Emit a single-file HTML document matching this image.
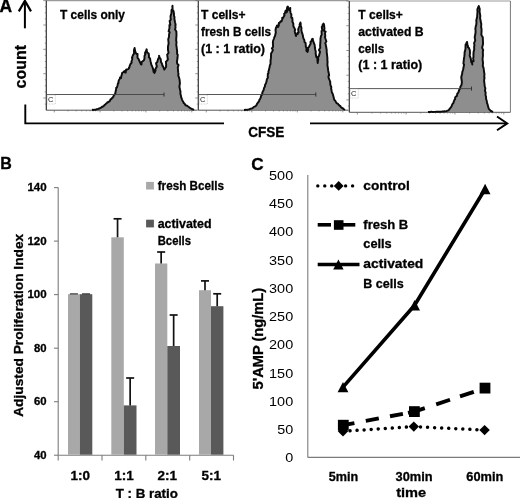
<!DOCTYPE html>
<html><head><meta charset="utf-8"><title>Figure</title>
<style>
html,body{margin:0;padding:0;background:#fff;}
body{width:520px;height:498px;overflow:hidden;}
svg{display:block;font-family:"Liberation Sans",sans-serif;filter:grayscale(1) blur(0.4px);}
</style></head><body>
<svg width="520" height="498" viewBox="0 0 520 498">
<rect width="520" height="498" fill="#fff"/>
<line x1="46.3" y1="0.6" x2="197.5" y2="0.6" stroke="#9a9a9a" stroke-width="1.2"/><line x1="46.3" y1="110.2" x2="197.5" y2="110.2" stroke="#555" stroke-width="1"/><line x1="46.3" y1="0.6" x2="46.3" y2="110.2" stroke="#333" stroke-width="1.2"/><line x1="43.3" y1="0.6" x2="46.3" y2="0.6" stroke="#666" stroke-width="0.7"/><line x1="44.8" y1="6.7" x2="46.3" y2="6.7" stroke="#666" stroke-width="0.7"/><line x1="44.8" y1="12.8" x2="46.3" y2="12.8" stroke="#666" stroke-width="0.7"/><line x1="44.8" y1="18.9" x2="46.3" y2="18.9" stroke="#666" stroke-width="0.7"/><line x1="43.3" y1="25.0" x2="46.3" y2="25.0" stroke="#666" stroke-width="0.7"/><line x1="44.8" y1="31.0" x2="46.3" y2="31.0" stroke="#666" stroke-width="0.7"/><line x1="44.8" y1="37.1" x2="46.3" y2="37.1" stroke="#666" stroke-width="0.7"/><line x1="44.8" y1="43.2" x2="46.3" y2="43.2" stroke="#666" stroke-width="0.7"/><line x1="43.3" y1="49.3" x2="46.3" y2="49.3" stroke="#666" stroke-width="0.7"/><line x1="44.8" y1="55.4" x2="46.3" y2="55.4" stroke="#666" stroke-width="0.7"/><line x1="44.8" y1="61.5" x2="46.3" y2="61.5" stroke="#666" stroke-width="0.7"/><line x1="44.8" y1="67.6" x2="46.3" y2="67.6" stroke="#666" stroke-width="0.7"/><line x1="43.3" y1="73.7" x2="46.3" y2="73.7" stroke="#666" stroke-width="0.7"/><line x1="44.8" y1="79.8" x2="46.3" y2="79.8" stroke="#666" stroke-width="0.7"/><line x1="44.8" y1="85.8" x2="46.3" y2="85.8" stroke="#666" stroke-width="0.7"/><line x1="44.8" y1="91.9" x2="46.3" y2="91.9" stroke="#666" stroke-width="0.7"/><line x1="43.3" y1="98.0" x2="46.3" y2="98.0" stroke="#666" stroke-width="0.7"/><line x1="44.8" y1="104.1" x2="46.3" y2="104.1" stroke="#666" stroke-width="0.7"/><line x1="54.3" y1="110.2" x2="54.3" y2="112.4" stroke="#666" stroke-width="0.7"/><line x1="68.1" y1="110.2" x2="68.1" y2="111.4" stroke="#666" stroke-width="0.7"/><line x1="76.2" y1="110.2" x2="76.2" y2="111.4" stroke="#666" stroke-width="0.7"/><line x1="81.9" y1="110.2" x2="81.9" y2="111.4" stroke="#666" stroke-width="0.7"/><line x1="86.3" y1="110.2" x2="86.3" y2="111.4" stroke="#666" stroke-width="0.7"/><line x1="90.0" y1="110.2" x2="90.0" y2="111.4" stroke="#666" stroke-width="0.7"/><line x1="93.0" y1="110.2" x2="93.0" y2="111.4" stroke="#666" stroke-width="0.7"/><line x1="95.7" y1="110.2" x2="95.7" y2="111.4" stroke="#666" stroke-width="0.7"/><line x1="98.0" y1="110.2" x2="98.0" y2="111.4" stroke="#666" stroke-width="0.7"/><line x1="100.1" y1="110.2" x2="100.1" y2="112.4" stroke="#666" stroke-width="0.7"/><line x1="113.9" y1="110.2" x2="113.9" y2="111.4" stroke="#666" stroke-width="0.7"/><line x1="122.0" y1="110.2" x2="122.0" y2="111.4" stroke="#666" stroke-width="0.7"/><line x1="127.7" y1="110.2" x2="127.7" y2="111.4" stroke="#666" stroke-width="0.7"/><line x1="132.1" y1="110.2" x2="132.1" y2="111.4" stroke="#666" stroke-width="0.7"/><line x1="135.8" y1="110.2" x2="135.8" y2="111.4" stroke="#666" stroke-width="0.7"/><line x1="138.8" y1="110.2" x2="138.8" y2="111.4" stroke="#666" stroke-width="0.7"/><line x1="141.5" y1="110.2" x2="141.5" y2="111.4" stroke="#666" stroke-width="0.7"/><line x1="143.8" y1="110.2" x2="143.8" y2="111.4" stroke="#666" stroke-width="0.7"/><line x1="145.9" y1="110.2" x2="145.9" y2="112.4" stroke="#666" stroke-width="0.7"/><line x1="159.7" y1="110.2" x2="159.7" y2="111.4" stroke="#666" stroke-width="0.7"/><line x1="167.8" y1="110.2" x2="167.8" y2="111.4" stroke="#666" stroke-width="0.7"/><line x1="173.5" y1="110.2" x2="173.5" y2="111.4" stroke="#666" stroke-width="0.7"/><line x1="178.0" y1="110.2" x2="178.0" y2="111.4" stroke="#666" stroke-width="0.7"/><line x1="181.6" y1="110.2" x2="181.6" y2="111.4" stroke="#666" stroke-width="0.7"/><line x1="184.7" y1="110.2" x2="184.7" y2="111.4" stroke="#666" stroke-width="0.7"/><line x1="187.3" y1="110.2" x2="187.3" y2="111.4" stroke="#666" stroke-width="0.7"/><line x1="189.7" y1="110.2" x2="189.7" y2="111.4" stroke="#666" stroke-width="0.7"/><line x1="191.8" y1="110.2" x2="191.8" y2="112.4" stroke="#666" stroke-width="0.7"/>
<line x1="198.3" y1="0.6" x2="348.5" y2="0.6" stroke="#9a9a9a" stroke-width="1.2"/><line x1="198.3" y1="110.2" x2="348.5" y2="110.2" stroke="#555" stroke-width="1"/><line x1="198.3" y1="0.6" x2="198.3" y2="110.2" stroke="#333" stroke-width="1.2"/><line x1="195.3" y1="0.6" x2="198.3" y2="0.6" stroke="#666" stroke-width="0.7"/><line x1="196.8" y1="6.7" x2="198.3" y2="6.7" stroke="#666" stroke-width="0.7"/><line x1="196.8" y1="12.8" x2="198.3" y2="12.8" stroke="#666" stroke-width="0.7"/><line x1="196.8" y1="18.9" x2="198.3" y2="18.9" stroke="#666" stroke-width="0.7"/><line x1="195.3" y1="25.0" x2="198.3" y2="25.0" stroke="#666" stroke-width="0.7"/><line x1="196.8" y1="31.0" x2="198.3" y2="31.0" stroke="#666" stroke-width="0.7"/><line x1="196.8" y1="37.1" x2="198.3" y2="37.1" stroke="#666" stroke-width="0.7"/><line x1="196.8" y1="43.2" x2="198.3" y2="43.2" stroke="#666" stroke-width="0.7"/><line x1="195.3" y1="49.3" x2="198.3" y2="49.3" stroke="#666" stroke-width="0.7"/><line x1="196.8" y1="55.4" x2="198.3" y2="55.4" stroke="#666" stroke-width="0.7"/><line x1="196.8" y1="61.5" x2="198.3" y2="61.5" stroke="#666" stroke-width="0.7"/><line x1="196.8" y1="67.6" x2="198.3" y2="67.6" stroke="#666" stroke-width="0.7"/><line x1="195.3" y1="73.7" x2="198.3" y2="73.7" stroke="#666" stroke-width="0.7"/><line x1="196.8" y1="79.8" x2="198.3" y2="79.8" stroke="#666" stroke-width="0.7"/><line x1="196.8" y1="85.8" x2="198.3" y2="85.8" stroke="#666" stroke-width="0.7"/><line x1="196.8" y1="91.9" x2="198.3" y2="91.9" stroke="#666" stroke-width="0.7"/><line x1="195.3" y1="98.0" x2="198.3" y2="98.0" stroke="#666" stroke-width="0.7"/><line x1="196.8" y1="104.1" x2="198.3" y2="104.1" stroke="#666" stroke-width="0.7"/><line x1="206.3" y1="110.2" x2="206.3" y2="112.4" stroke="#666" stroke-width="0.7"/><line x1="220.0" y1="110.2" x2="220.0" y2="111.4" stroke="#666" stroke-width="0.7"/><line x1="228.0" y1="110.2" x2="228.0" y2="111.4" stroke="#666" stroke-width="0.7"/><line x1="233.7" y1="110.2" x2="233.7" y2="111.4" stroke="#666" stroke-width="0.7"/><line x1="238.1" y1="110.2" x2="238.1" y2="111.4" stroke="#666" stroke-width="0.7"/><line x1="241.7" y1="110.2" x2="241.7" y2="111.4" stroke="#666" stroke-width="0.7"/><line x1="244.8" y1="110.2" x2="244.8" y2="111.4" stroke="#666" stroke-width="0.7"/><line x1="247.4" y1="110.2" x2="247.4" y2="111.4" stroke="#666" stroke-width="0.7"/><line x1="249.7" y1="110.2" x2="249.7" y2="111.4" stroke="#666" stroke-width="0.7"/><line x1="251.8" y1="110.2" x2="251.8" y2="112.4" stroke="#666" stroke-width="0.7"/><line x1="265.5" y1="110.2" x2="265.5" y2="111.4" stroke="#666" stroke-width="0.7"/><line x1="273.5" y1="110.2" x2="273.5" y2="111.4" stroke="#666" stroke-width="0.7"/><line x1="279.2" y1="110.2" x2="279.2" y2="111.4" stroke="#666" stroke-width="0.7"/><line x1="283.6" y1="110.2" x2="283.6" y2="111.4" stroke="#666" stroke-width="0.7"/><line x1="287.2" y1="110.2" x2="287.2" y2="111.4" stroke="#666" stroke-width="0.7"/><line x1="290.3" y1="110.2" x2="290.3" y2="111.4" stroke="#666" stroke-width="0.7"/><line x1="292.9" y1="110.2" x2="292.9" y2="111.4" stroke="#666" stroke-width="0.7"/><line x1="295.2" y1="110.2" x2="295.2" y2="111.4" stroke="#666" stroke-width="0.7"/><line x1="297.3" y1="110.2" x2="297.3" y2="112.4" stroke="#666" stroke-width="0.7"/><line x1="311.0" y1="110.2" x2="311.0" y2="111.4" stroke="#666" stroke-width="0.7"/><line x1="319.0" y1="110.2" x2="319.0" y2="111.4" stroke="#666" stroke-width="0.7"/><line x1="324.7" y1="110.2" x2="324.7" y2="111.4" stroke="#666" stroke-width="0.7"/><line x1="329.1" y1="110.2" x2="329.1" y2="111.4" stroke="#666" stroke-width="0.7"/><line x1="332.7" y1="110.2" x2="332.7" y2="111.4" stroke="#666" stroke-width="0.7"/><line x1="335.8" y1="110.2" x2="335.8" y2="111.4" stroke="#666" stroke-width="0.7"/><line x1="338.4" y1="110.2" x2="338.4" y2="111.4" stroke="#666" stroke-width="0.7"/><line x1="340.8" y1="110.2" x2="340.8" y2="111.4" stroke="#666" stroke-width="0.7"/><line x1="342.8" y1="110.2" x2="342.8" y2="112.4" stroke="#666" stroke-width="0.7"/>
<line x1="349.3" y1="1" x2="510.4" y2="1" stroke="#9a9a9a" stroke-width="1.2"/><line x1="349.3" y1="112.3" x2="510.4" y2="112.3" stroke="#555" stroke-width="1"/><line x1="349.3" y1="1" x2="349.3" y2="112.3" stroke="#333" stroke-width="1.2"/><line x1="510.4" y1="1" x2="510.4" y2="112.3" stroke="#777" stroke-width="1"/><line x1="346.3" y1="1.0" x2="349.3" y2="1.0" stroke="#666" stroke-width="0.7"/><line x1="347.8" y1="7.2" x2="349.3" y2="7.2" stroke="#666" stroke-width="0.7"/><line x1="347.8" y1="13.4" x2="349.3" y2="13.4" stroke="#666" stroke-width="0.7"/><line x1="347.8" y1="19.5" x2="349.3" y2="19.5" stroke="#666" stroke-width="0.7"/><line x1="346.3" y1="25.7" x2="349.3" y2="25.7" stroke="#666" stroke-width="0.7"/><line x1="347.8" y1="31.9" x2="349.3" y2="31.9" stroke="#666" stroke-width="0.7"/><line x1="347.8" y1="38.1" x2="349.3" y2="38.1" stroke="#666" stroke-width="0.7"/><line x1="347.8" y1="44.3" x2="349.3" y2="44.3" stroke="#666" stroke-width="0.7"/><line x1="346.3" y1="50.5" x2="349.3" y2="50.5" stroke="#666" stroke-width="0.7"/><line x1="347.8" y1="56.6" x2="349.3" y2="56.6" stroke="#666" stroke-width="0.7"/><line x1="347.8" y1="62.8" x2="349.3" y2="62.8" stroke="#666" stroke-width="0.7"/><line x1="347.8" y1="69.0" x2="349.3" y2="69.0" stroke="#666" stroke-width="0.7"/><line x1="346.3" y1="75.2" x2="349.3" y2="75.2" stroke="#666" stroke-width="0.7"/><line x1="347.8" y1="81.4" x2="349.3" y2="81.4" stroke="#666" stroke-width="0.7"/><line x1="347.8" y1="87.6" x2="349.3" y2="87.6" stroke="#666" stroke-width="0.7"/><line x1="347.8" y1="93.8" x2="349.3" y2="93.8" stroke="#666" stroke-width="0.7"/><line x1="346.3" y1="99.9" x2="349.3" y2="99.9" stroke="#666" stroke-width="0.7"/><line x1="347.8" y1="106.1" x2="349.3" y2="106.1" stroke="#666" stroke-width="0.7"/><line x1="357.3" y1="112.3" x2="357.3" y2="114.5" stroke="#666" stroke-width="0.7"/><line x1="372.0" y1="112.3" x2="372.0" y2="113.5" stroke="#666" stroke-width="0.7"/><line x1="380.6" y1="112.3" x2="380.6" y2="113.5" stroke="#666" stroke-width="0.7"/><line x1="386.7" y1="112.3" x2="386.7" y2="113.5" stroke="#666" stroke-width="0.7"/><line x1="391.4" y1="112.3" x2="391.4" y2="113.5" stroke="#666" stroke-width="0.7"/><line x1="395.3" y1="112.3" x2="395.3" y2="113.5" stroke="#666" stroke-width="0.7"/><line x1="398.6" y1="112.3" x2="398.6" y2="113.5" stroke="#666" stroke-width="0.7"/><line x1="401.4" y1="112.3" x2="401.4" y2="113.5" stroke="#666" stroke-width="0.7"/><line x1="403.9" y1="112.3" x2="403.9" y2="113.5" stroke="#666" stroke-width="0.7"/><line x1="406.1" y1="112.3" x2="406.1" y2="114.5" stroke="#666" stroke-width="0.7"/><line x1="420.8" y1="112.3" x2="420.8" y2="113.5" stroke="#666" stroke-width="0.7"/><line x1="429.4" y1="112.3" x2="429.4" y2="113.5" stroke="#666" stroke-width="0.7"/><line x1="435.5" y1="112.3" x2="435.5" y2="113.5" stroke="#666" stroke-width="0.7"/><line x1="440.2" y1="112.3" x2="440.2" y2="113.5" stroke="#666" stroke-width="0.7"/><line x1="444.1" y1="112.3" x2="444.1" y2="113.5" stroke="#666" stroke-width="0.7"/><line x1="447.4" y1="112.3" x2="447.4" y2="113.5" stroke="#666" stroke-width="0.7"/><line x1="450.2" y1="112.3" x2="450.2" y2="113.5" stroke="#666" stroke-width="0.7"/><line x1="452.7" y1="112.3" x2="452.7" y2="113.5" stroke="#666" stroke-width="0.7"/><line x1="454.9" y1="112.3" x2="454.9" y2="114.5" stroke="#666" stroke-width="0.7"/><line x1="469.6" y1="112.3" x2="469.6" y2="113.5" stroke="#666" stroke-width="0.7"/><line x1="478.2" y1="112.3" x2="478.2" y2="113.5" stroke="#666" stroke-width="0.7"/><line x1="484.3" y1="112.3" x2="484.3" y2="113.5" stroke="#666" stroke-width="0.7"/><line x1="489.1" y1="112.3" x2="489.1" y2="113.5" stroke="#666" stroke-width="0.7"/><line x1="492.9" y1="112.3" x2="492.9" y2="113.5" stroke="#666" stroke-width="0.7"/><line x1="496.2" y1="112.3" x2="496.2" y2="113.5" stroke="#666" stroke-width="0.7"/><line x1="499.0" y1="112.3" x2="499.0" y2="113.5" stroke="#666" stroke-width="0.7"/><line x1="501.5" y1="112.3" x2="501.5" y2="113.5" stroke="#666" stroke-width="0.7"/><line x1="503.8" y1="112.3" x2="503.8" y2="114.5" stroke="#666" stroke-width="0.7"/>
<polygon points="92,110 92.85,109.83 93.57,109.91 94.39,109.76 95.24,109.72 96.0,109.6 96.73,109.2 97.59,109.14 98.31,108.85 99.24,108.46 100.0,108.2 100.76,107.69 101.22,107.57 102.01,106.79 102.64,106.81 103.31,106.06 104.0,105.8 104.51,104.97 105.2,104.64 105.7,103.95 106.38,103.37 107.0,103.0 107.4,102.34 108.22,102.27 108.66,101.62 109.57,101.43 110.0,100.5 110.58,99.3 111.45,99.06 112.0,98.0 112.58,97.65 113.36,96.7 113.94,95.2 114.5,94.6 115.27,93.61 115.58,91.54 116.0,90.0 116.25,87.69 116.91,87.55 117.5,85.5 117.93,83.45 118.46,83.19 118.55,81.09 119.0,80.0 119.87,78.77 120.0,77.5 121.0,78.0 121.35,76.05 122.0,74.0 122.05,72.97 123.5,72.0 124.55,71.02 125.0,72.5 125.64,72.55 126.0,70.0 126.26,69.46 127.5,69.5 128.97,68.51 129.0,67.5 129.56,67.06 129.6,66.14 130.5,64.0 131.67,62.7 131.44,61.54 132.0,60.0 132.4,57.71 131.93,57.9 133.0,55.0 133.81,54.1 134.02,52.71 134.0,50.0 134.6,48.0 135.08,50.83 135.5,52.0 135.89,53.17 136.5,54.0 137.55,54.05 137.5,56.5 137.55,57.86 138.48,58.85 139.0,60.0 139.27,60.78 140.18,62.44 140.5,63.5 140.94,64.3 141.5,64.5 141.6,62.06 142.63,61.3 143.0,61.0 143.94,60.31 144.47,58.47 144.5,56.0 145.51,53.67 144.88,53.13 146.0,51.0 146.8,49.5 146.48,49.36 147.23,52.52 148.0,53.0 148.69,53.45 149.0,56.0 148.86,57.25 150.04,58.41 150.5,61.0 150.66,61.77 151.43,64.9 152.0,66.0 152.46,67.19 152.83,68.05 153.5,71.0 153.54,71.79 154.5,73.0 155.59,70.28 155.07,69.69 156.0,68.0 156.85,66.54 156.03,63.21 157.45,61.8 157.5,61.0 158.18,58.78 158.32,58.88 159.33,56.35 159.0,55.8 159.52,57.7 160.0,58.0 160.72,59.25 161.0,62.0 161.61,63.05 162.19,64.18 162.5,66.0 162.83,65.98 164.32,69.6 164.4,69.5 165.47,67.81 166.12,66.65 166.0,66.0 166.18,64.86 165.87,61.73 166.21,61.62 167.89,59.66 167.5,57.0 167.18,54.69 168.54,52.99 168.01,50.05 167.94,46.67 168.59,43.71 168.5,42.0 168.21,39.49 169.08,36.27 169.0,34.45 169.72,32.2 168.62,31.41 169.5,28.0 169.44,24.99 170.32,24.92 169.67,20.97 170.8,19.67 170.5,17.0 170.6,15.83 171.44,13.37 171.5,10.0 172.55,8.56 172.5,6.48 172.5,5.8 172.34,6.41 172.74,10.38 173.5,11.0 173.98,13.7 173.97,15.92 174.5,17.0 174.39,18.77 175.05,22.39 175.68,24.83 175.38,24.82 175.5,28.0 174.98,29.26 176.38,31.51 176.49,35.78 176.34,36.9 176.15,40.43 176.5,42.0 176.26,44.86 176.49,46.2 177.1,51.06 177.1,53.81 177.76,54.73 177.5,58.0 176.94,61.55 177.23,63.79 178.57,64.96 177.78,67.42 178.22,72.65 178.5,74.0 178.24,75.42 179.26,78.21 179.66,80.36 179.91,83.41 179.37,86.87 179.8,88.5 180.08,89.98 180.52,91.66 180.34,93.5 181.0,96.0 181.3,97.8 181.82,98.6 182.04,99.57 182.7,101.0 183.48,102.21 183.69,103.1 184.47,103.43 185.0,104.5 185.71,105.24 186.45,105.53 187.11,105.75 187.73,106.24 188.5,106.8 189.07,107.04 189.74,107.85 190.4,108.13 191.0,108.5 191.73,109.02 192.47,109.19 193.3,109.58 194.0,110.0" fill="#8e8e8e" stroke="none"/><polyline points="92,110 92.85,109.83 93.57,109.91 94.39,109.76 95.24,109.72 96.0,109.6 96.73,109.2 97.59,109.14 98.31,108.85 99.24,108.46 100.0,108.2 100.76,107.69 101.22,107.57 102.01,106.79 102.64,106.81 103.31,106.06 104.0,105.8 104.51,104.97 105.2,104.64 105.7,103.95 106.38,103.37 107.0,103.0 107.4,102.34 108.22,102.27 108.66,101.62 109.57,101.43 110.0,100.5 110.58,99.3 111.45,99.06 112.0,98.0 112.58,97.65 113.36,96.7 113.94,95.2 114.5,94.6 115.27,93.61 115.58,91.54 116.0,90.0 116.25,87.69 116.91,87.55 117.5,85.5 117.93,83.45 118.46,83.19 118.55,81.09 119.0,80.0 119.87,78.77 120.0,77.5 121.0,78.0 121.35,76.05 122.0,74.0 122.05,72.97 123.5,72.0 124.55,71.02 125.0,72.5 125.64,72.55 126.0,70.0 126.26,69.46 127.5,69.5 128.97,68.51 129.0,67.5 129.56,67.06 129.6,66.14 130.5,64.0 131.67,62.7 131.44,61.54 132.0,60.0 132.4,57.71 131.93,57.9 133.0,55.0 133.81,54.1 134.02,52.71 134.0,50.0 134.6,48.0 135.08,50.83 135.5,52.0 135.89,53.17 136.5,54.0 137.55,54.05 137.5,56.5 137.55,57.86 138.48,58.85 139.0,60.0 139.27,60.78 140.18,62.44 140.5,63.5 140.94,64.3 141.5,64.5 141.6,62.06 142.63,61.3 143.0,61.0 143.94,60.31 144.47,58.47 144.5,56.0 145.51,53.67 144.88,53.13 146.0,51.0 146.8,49.5 146.48,49.36 147.23,52.52 148.0,53.0 148.69,53.45 149.0,56.0 148.86,57.25 150.04,58.41 150.5,61.0 150.66,61.77 151.43,64.9 152.0,66.0 152.46,67.19 152.83,68.05 153.5,71.0 153.54,71.79 154.5,73.0 155.59,70.28 155.07,69.69 156.0,68.0 156.85,66.54 156.03,63.21 157.45,61.8 157.5,61.0 158.18,58.78 158.32,58.88 159.33,56.35 159.0,55.8 159.52,57.7 160.0,58.0 160.72,59.25 161.0,62.0 161.61,63.05 162.19,64.18 162.5,66.0 162.83,65.98 164.32,69.6 164.4,69.5 165.47,67.81 166.12,66.65 166.0,66.0 166.18,64.86 165.87,61.73 166.21,61.62 167.89,59.66 167.5,57.0 167.18,54.69 168.54,52.99 168.01,50.05 167.94,46.67 168.59,43.71 168.5,42.0 168.21,39.49 169.08,36.27 169.0,34.45 169.72,32.2 168.62,31.41 169.5,28.0 169.44,24.99 170.32,24.92 169.67,20.97 170.8,19.67 170.5,17.0 170.6,15.83 171.44,13.37 171.5,10.0 172.55,8.56 172.5,6.48 172.5,5.8 172.34,6.41 172.74,10.38 173.5,11.0 173.98,13.7 173.97,15.92 174.5,17.0 174.39,18.77 175.05,22.39 175.68,24.83 175.38,24.82 175.5,28.0 174.98,29.26 176.38,31.51 176.49,35.78 176.34,36.9 176.15,40.43 176.5,42.0 176.26,44.86 176.49,46.2 177.1,51.06 177.1,53.81 177.76,54.73 177.5,58.0 176.94,61.55 177.23,63.79 178.57,64.96 177.78,67.42 178.22,72.65 178.5,74.0 178.24,75.42 179.26,78.21 179.66,80.36 179.91,83.41 179.37,86.87 179.8,88.5 180.08,89.98 180.52,91.66 180.34,93.5 181.0,96.0 181.3,97.8 181.82,98.6 182.04,99.57 182.7,101.0 183.48,102.21 183.69,103.1 184.47,103.43 185.0,104.5 185.71,105.24 186.45,105.53 187.11,105.75 187.73,106.24 188.5,106.8 189.07,107.04 189.74,107.85 190.4,108.13 191.0,108.5 191.73,109.02 192.47,109.19 193.3,109.58 194.0,110.0" fill="none" stroke="#0c0c0c" stroke-width="1.95" stroke-linejoin="round"/>
<polygon points="244,110 244.86,110 245.54,109.73 246.43,109.85 247.17,109.72 248.0,109.6 248.82,109.37 249.54,109.1 250.38,108.8 251.29,108.64 252.0,108.3 252.68,108.06 253.28,107.44 253.88,106.84 254.62,106.62 255.44,106.16 256.0,105.8 256.64,104.87 257.08,103.72 257.73,102.82 258.5,102.0 259.24,100.81 259.33,99.77 260.17,98.81 260.75,97.47 261.0,96.0 261.71,95.09 262.37,93.3 262.22,92.93 263.0,91.0 263.7,89.93 264.03,87.93 264.94,86.48 265.0,85.0 265.88,83.5 266.46,81.68 266.45,81.42 267.0,79.0 267.96,77.67 267.73,76.59 267.86,73.75 268.5,73.0 268.38,71.54 268.91,70.1 269.34,68.11 270.0,65.0 270.56,63.98 270.53,60.51 270.88,58.66 271.0,56.0 271.07,53.49 272.0,52.0 272.89,50.03 271.87,48.33 273.09,46.87 273.0,44.0 272.88,43.27 273.01,40.99 274.0,38.5 274.16,37.66 275.0,36.0 275.81,32.26 275.5,30.0 276.03,27.44 276.12,27.96 277.0,25.5 278.07,25.47 278.0,27.0 278.82,25.46 278.8,23.07 279.5,23.0 280.42,21.61 281.51,20.87 281.5,21.5 282.34,19.05 282.14,17.87 283.0,18.0 282.99,18.01 284.28,15.48 284.5,15.5 284.15,13.69 284.65,13.82 285.5,11.0 285.77,10.5 286.5,12.5 287.19,11.31 286.91,8.46 287.4,6.73 287.8,6.5 288.56,8.38 288.98,9.92 289.0,10.0 289.95,9.98 290.3,8.0 290.13,9.93 290.49,12.43 291.0,14.0 291.36,14.26 291.31,17.68 292.3,18.0 292.47,20.06 292.44,21.71 293.3,23.5 293.41,26.57 294.11,27.45 294.7,29.0 295.11,29.45 294.69,31.53 295.17,32.99 296.0,36.0 296.7,33.91 297.72,34.02 297.5,33.0 298.61,32.67 298.17,29.28 298.76,27.83 299.0,27.0 299.91,25.84 299.57,24.57 300.4,22.5 300.81,24.13 300.44,24.83 301.5,28.0 301.3,29.75 301.87,32.6 302.15,32.92 303.0,36.0 302.96,36.78 303.7,39.06 304.34,39.99 304.5,42.0 305.6,42.89 305.84,46.58 306.0,47.0 306.52,48.49 306.33,50.55 307.5,52.0 308.04,50.11 307.9,47.81 309.0,47.0 309.3,46.15 310.63,43.72 310.5,42.0 310.69,41.37 311.31,41.44 312.0,39.2 312.78,38.8 313.0,41.0 313.15,40.92 314.12,43.92 314.3,44.0 314.56,44.69 314.95,47.76 315.3,50.0 315.77,51.55 315.65,53.52 316.3,57.0 317.3,58.16 317.38,58.86 317.46,60.67 317.7,63.0 317.97,60.96 318.19,60.18 318.11,56.73 319.0,56.0 319.74,52.7 320.12,52.05 318.94,50.02 320.28,47.76 320.08,45.77 320.3,43.0 320.48,40.22 320.44,39.01 320.99,35.87 321.71,34.63 321.5,31.0 322.33,30.5 321.77,27.12 322.5,26.0 322.64,24.72 323.5,23.5 324.1,24.8 324.29,27.63 324.5,28.0 324.1,30.86 325.64,31.61 324.98,33.05 325.3,36.0 324.87,37.03 326.39,41.47 325.29,43.0 325.62,44.25 326.2,47.0 326.69,50.06 326.68,52.03 326.92,53.75 327.46,58.61 327.3,60.0 327.56,61.31 327.42,65.38 327.96,68.27 328.12,70.15 328.5,72.0 329.17,75.34 328.49,76.19 328.61,77.85 329.5,80.0 330.3,81.88 330.18,82.66 330.4,84.97 331.28,87.06 331.14,88.69 331.5,90.0 331.77,92.21 332.46,93.35 333.01,94.85 333.25,95.66 333.69,97.39 334.0,99.0 334.69,100.45 335.23,100.58 336.04,102.17 336.5,103.0 337.25,103.6 337.91,103.68 338.41,104.64 339.0,105.0 339.72,105.82 340.29,106.0 340.72,106.92 341.42,107.5 342.0,108.0 342.81,108.39 343.52,108.89 344.21,109.48 345.0,110.0" fill="#8e8e8e" stroke="none"/><polyline points="244,110 244.86,110 245.54,109.73 246.43,109.85 247.17,109.72 248.0,109.6 248.82,109.37 249.54,109.1 250.38,108.8 251.29,108.64 252.0,108.3 252.68,108.06 253.28,107.44 253.88,106.84 254.62,106.62 255.44,106.16 256.0,105.8 256.64,104.87 257.08,103.72 257.73,102.82 258.5,102.0 259.24,100.81 259.33,99.77 260.17,98.81 260.75,97.47 261.0,96.0 261.71,95.09 262.37,93.3 262.22,92.93 263.0,91.0 263.7,89.93 264.03,87.93 264.94,86.48 265.0,85.0 265.88,83.5 266.46,81.68 266.45,81.42 267.0,79.0 267.96,77.67 267.73,76.59 267.86,73.75 268.5,73.0 268.38,71.54 268.91,70.1 269.34,68.11 270.0,65.0 270.56,63.98 270.53,60.51 270.88,58.66 271.0,56.0 271.07,53.49 272.0,52.0 272.89,50.03 271.87,48.33 273.09,46.87 273.0,44.0 272.88,43.27 273.01,40.99 274.0,38.5 274.16,37.66 275.0,36.0 275.81,32.26 275.5,30.0 276.03,27.44 276.12,27.96 277.0,25.5 278.07,25.47 278.0,27.0 278.82,25.46 278.8,23.07 279.5,23.0 280.42,21.61 281.51,20.87 281.5,21.5 282.34,19.05 282.14,17.87 283.0,18.0 282.99,18.01 284.28,15.48 284.5,15.5 284.15,13.69 284.65,13.82 285.5,11.0 285.77,10.5 286.5,12.5 287.19,11.31 286.91,8.46 287.4,6.73 287.8,6.5 288.56,8.38 288.98,9.92 289.0,10.0 289.95,9.98 290.3,8.0 290.13,9.93 290.49,12.43 291.0,14.0 291.36,14.26 291.31,17.68 292.3,18.0 292.47,20.06 292.44,21.71 293.3,23.5 293.41,26.57 294.11,27.45 294.7,29.0 295.11,29.45 294.69,31.53 295.17,32.99 296.0,36.0 296.7,33.91 297.72,34.02 297.5,33.0 298.61,32.67 298.17,29.28 298.76,27.83 299.0,27.0 299.91,25.84 299.57,24.57 300.4,22.5 300.81,24.13 300.44,24.83 301.5,28.0 301.3,29.75 301.87,32.6 302.15,32.92 303.0,36.0 302.96,36.78 303.7,39.06 304.34,39.99 304.5,42.0 305.6,42.89 305.84,46.58 306.0,47.0 306.52,48.49 306.33,50.55 307.5,52.0 308.04,50.11 307.9,47.81 309.0,47.0 309.3,46.15 310.63,43.72 310.5,42.0 310.69,41.37 311.31,41.44 312.0,39.2 312.78,38.8 313.0,41.0 313.15,40.92 314.12,43.92 314.3,44.0 314.56,44.69 314.95,47.76 315.3,50.0 315.77,51.55 315.65,53.52 316.3,57.0 317.3,58.16 317.38,58.86 317.46,60.67 317.7,63.0 317.97,60.96 318.19,60.18 318.11,56.73 319.0,56.0 319.74,52.7 320.12,52.05 318.94,50.02 320.28,47.76 320.08,45.77 320.3,43.0 320.48,40.22 320.44,39.01 320.99,35.87 321.71,34.63 321.5,31.0 322.33,30.5 321.77,27.12 322.5,26.0 322.64,24.72 323.5,23.5 324.1,24.8 324.29,27.63 324.5,28.0 324.1,30.86 325.64,31.61 324.98,33.05 325.3,36.0 324.87,37.03 326.39,41.47 325.29,43.0 325.62,44.25 326.2,47.0 326.69,50.06 326.68,52.03 326.92,53.75 327.46,58.61 327.3,60.0 327.56,61.31 327.42,65.38 327.96,68.27 328.12,70.15 328.5,72.0 329.17,75.34 328.49,76.19 328.61,77.85 329.5,80.0 330.3,81.88 330.18,82.66 330.4,84.97 331.28,87.06 331.14,88.69 331.5,90.0 331.77,92.21 332.46,93.35 333.01,94.85 333.25,95.66 333.69,97.39 334.0,99.0 334.69,100.45 335.23,100.58 336.04,102.17 336.5,103.0 337.25,103.6 337.91,103.68 338.41,104.64 339.0,105.0 339.72,105.82 340.29,106.0 340.72,106.92 341.42,107.5 342.0,108.0 342.81,108.39 343.52,108.89 344.21,109.48 345.0,110.0" fill="none" stroke="#0c0c0c" stroke-width="1.95" stroke-linejoin="round"/>
<polygon points="428,112 428.81,111.92 429.61,111.93 430.34,111.97 431.25,111.8 431.96,111.84 432.8,112 433.6,111.94 434.35,111.87 435.25,111.85 436.03,111.81 436.74,111.82 437.61,111.83 438.33,111.69 439.2,111.81 440.0,111.7 440.81,111.7 441.56,111.63 442.3,111.48 443.07,111.43 443.69,111.49 444.46,111.22 445.24,111.4 446.0,111.2 446.8,110.94 447.65,110.6 448.5,110.3 449.12,109.47 449.8,108.81 450.3,108.0 451.01,107.11 451.61,106.24 452.0,105.0 452.35,104.14 453.22,103.31 453.54,102.38 454.0,101.0 454.33,100.11 455.05,99.14 455.2,97.36 456.0,96.5 456.87,96.12 457.24,94.15 457.21,93.74 458.0,93.0 458.79,91.54 458.67,91.39 459.2,89.83 460.2,88.5 460.36,86.82 461.48,85.08 461.89,82.14 461.6,80.0 461.27,77.5 461.46,76.27 462.3,73.18 462.21,72.3 463.0,70.0 463.75,66.26 464.08,64.5 463.42,63.57 463.8,60.0 464.03,57.89 464.34,56.39 464.58,54.16 464.6,52.0 464.91,51.52 465.53,48.48 465.5,47.0 465.6,44.54 466.3,43.5 467.0,42.0 467.53,45.29 468.0,46.0 467.77,47.13 469.0,48.0 469.45,49.44 469.84,50.04 470.0,53.0 469.68,55.69 470.62,58.01 471.0,60.0 471.21,61.98 472.22,63.56 472.3,64.5 471.95,61.33 473.59,61.23 473.14,58.2 473.5,57.0 473.43,54.85 473.62,51.83 474.24,49.45 474.12,46.86 474.5,45.0 474.0,43.34 475.25,40.39 474.69,37.29 474.91,36.22 475.5,33.0 475.6,29.96 475.31,29.13 475.85,25.92 476.21,25.1 476.5,22.0 476.26,20.46 477.22,16.56 477.18,15.54 477.5,12.0 477.34,9.26 477.84,8.08 478.7,6.0 479.7,8.83 479.7,10.0 479.57,11.65 480.31,15.83 480.07,18.33 480.5,20.0 480.59,21.0 481.3,24.0 481.1,27.19 481.46,28.39 481.59,30.98 481.35,34.74 482.0,36.0 482.79,37.33 482.99,42.36 483.07,43.82 482.12,47.82 483.17,50.0 482.8,52.0 482.96,55.11 482.83,56.76 482.56,59.26 483.02,62.91 482.79,66.17 483.6,68.0 484.04,71.76 484.49,74.48 484.16,77.08 484.55,77.41 484.09,80.55 484.5,84.0 484.73,86.53 485.36,88.24 484.95,90.79 485.62,92.41 485.5,95.0 486.08,96.97 486.06,98.83 486.8,101.03 487.0,103.0 487.62,104.42 488.11,106.6 488.5,108.0 489.04,109.08 489.91,109.92 490.5,110.8 491.09,110.96 491.75,111.33 492.37,111.68 493.0,112.0" fill="#8e8e8e" stroke="none"/><polyline points="428,112 428.81,111.92 429.61,111.93 430.34,111.97 431.25,111.8 431.96,111.84 432.8,112 433.6,111.94 434.35,111.87 435.25,111.85 436.03,111.81 436.74,111.82 437.61,111.83 438.33,111.69 439.2,111.81 440.0,111.7 440.81,111.7 441.56,111.63 442.3,111.48 443.07,111.43 443.69,111.49 444.46,111.22 445.24,111.4 446.0,111.2 446.8,110.94 447.65,110.6 448.5,110.3 449.12,109.47 449.8,108.81 450.3,108.0 451.01,107.11 451.61,106.24 452.0,105.0 452.35,104.14 453.22,103.31 453.54,102.38 454.0,101.0 454.33,100.11 455.05,99.14 455.2,97.36 456.0,96.5 456.87,96.12 457.24,94.15 457.21,93.74 458.0,93.0 458.79,91.54 458.67,91.39 459.2,89.83 460.2,88.5 460.36,86.82 461.48,85.08 461.89,82.14 461.6,80.0 461.27,77.5 461.46,76.27 462.3,73.18 462.21,72.3 463.0,70.0 463.75,66.26 464.08,64.5 463.42,63.57 463.8,60.0 464.03,57.89 464.34,56.39 464.58,54.16 464.6,52.0 464.91,51.52 465.53,48.48 465.5,47.0 465.6,44.54 466.3,43.5 467.0,42.0 467.53,45.29 468.0,46.0 467.77,47.13 469.0,48.0 469.45,49.44 469.84,50.04 470.0,53.0 469.68,55.69 470.62,58.01 471.0,60.0 471.21,61.98 472.22,63.56 472.3,64.5 471.95,61.33 473.59,61.23 473.14,58.2 473.5,57.0 473.43,54.85 473.62,51.83 474.24,49.45 474.12,46.86 474.5,45.0 474.0,43.34 475.25,40.39 474.69,37.29 474.91,36.22 475.5,33.0 475.6,29.96 475.31,29.13 475.85,25.92 476.21,25.1 476.5,22.0 476.26,20.46 477.22,16.56 477.18,15.54 477.5,12.0 477.34,9.26 477.84,8.08 478.7,6.0 479.7,8.83 479.7,10.0 479.57,11.65 480.31,15.83 480.07,18.33 480.5,20.0 480.59,21.0 481.3,24.0 481.1,27.19 481.46,28.39 481.59,30.98 481.35,34.74 482.0,36.0 482.79,37.33 482.99,42.36 483.07,43.82 482.12,47.82 483.17,50.0 482.8,52.0 482.96,55.11 482.83,56.76 482.56,59.26 483.02,62.91 482.79,66.17 483.6,68.0 484.04,71.76 484.49,74.48 484.16,77.08 484.55,77.41 484.09,80.55 484.5,84.0 484.73,86.53 485.36,88.24 484.95,90.79 485.62,92.41 485.5,95.0 486.08,96.97 486.06,98.83 486.8,101.03 487.0,103.0 487.62,104.42 488.11,106.6 488.5,108.0 489.04,109.08 489.91,109.92 490.5,110.8 491.09,110.96 491.75,111.33 492.37,111.68 493.0,112.0" fill="none" stroke="#0c0c0c" stroke-width="1.95" stroke-linejoin="round"/>
<line x1="46.3" y1="94.5" x2="164" y2="94.5" stroke="#444" stroke-width="0.9"/><line x1="164" y1="92.5" x2="164" y2="96.5" stroke="#333" stroke-width="1"/><rect x="47.3" y="95.0" width="8" height="9" fill="#fff" stroke="#bbb" stroke-width="0.6" stroke-dasharray="1 0.6"/><text x="48.099999999999994" y="102.2" font-size="7.5" font-weight="normal" text-anchor="start" fill="#222">C</text>
<line x1="198.3" y1="94.5" x2="315.8" y2="94.5" stroke="#444" stroke-width="0.9"/><line x1="315.8" y1="92.5" x2="315.8" y2="96.5" stroke="#333" stroke-width="1"/><rect x="199.3" y="95.0" width="8" height="9" fill="#fff" stroke="#bbb" stroke-width="0.6" stroke-dasharray="1 0.6"/><text x="200.10000000000002" y="102.2" font-size="7.5" font-weight="normal" text-anchor="start" fill="#222">C</text>
<line x1="349.3" y1="88.6" x2="471.5" y2="88.6" stroke="#444" stroke-width="0.9"/><line x1="471.5" y1="86.6" x2="471.5" y2="90.6" stroke="#333" stroke-width="1"/><rect x="350.3" y="89.1" width="8" height="9" fill="#fff" stroke="#bbb" stroke-width="0.6" stroke-dasharray="1 0.6"/><text x="351.1" y="96.3" font-size="7.5" font-weight="normal" text-anchor="start" fill="#222">C</text>
<polyline points="25.3,104.5 25.3,123.4 224,123.4" fill="none" stroke="#000" stroke-width="1.9"/>
<line x1="310" y1="123.4" x2="506.5" y2="123.4" stroke="#000" stroke-width="1.9"/>
<polyline points="497,116.5 507.3,123.4 497,130.3" fill="none" stroke="#000" stroke-width="1.9"/>
<line x1="24.9" y1="1" x2="24.9" y2="28.3" stroke="#000" stroke-width="2"/>
<polyline points="18.8,11.4 24.9,0.8 31,11.4" fill="none" stroke="#000" stroke-width="2.2"/>
<text x="-0.4" y="12.3" font-size="17.5" font-weight="bold" text-anchor="start" fill="#000" stroke="#000" stroke-width="0.3">A</text>
<text x="26" y="88.4" font-size="17.3" font-weight="bold" text-anchor="start" fill="#000" stroke="#000" stroke-width="0.3" textLength="43.4" lengthAdjust="spacingAndGlyphs" transform="rotate(-90 26 88.4)">count</text>
<text x="248.2" y="136.9" font-size="15.4" font-weight="bold" text-anchor="start" fill="#000" stroke="#000" stroke-width="0.3" textLength="36.2" lengthAdjust="spacingAndGlyphs">CFSE</text>
<text x="60" y="19.2" font-size="12.6" font-weight="bold" text-anchor="start" fill="#000" stroke="#000" stroke-width="0.3" textLength="65" lengthAdjust="spacingAndGlyphs">T cells only</text>
<text x="201" y="19.2" font-size="12.6" font-weight="bold" text-anchor="start" fill="#000" stroke="#000" stroke-width="0.3" textLength="44.5" lengthAdjust="spacingAndGlyphs">T cells+</text>
<text x="201" y="36.4" font-size="12.6" font-weight="bold" text-anchor="start" fill="#000" stroke="#000" stroke-width="0.3" textLength="70" lengthAdjust="spacingAndGlyphs">fresh B cells</text>
<text x="201" y="52.6" font-size="12.6" font-weight="bold" text-anchor="start" fill="#000" stroke="#000" stroke-width="0.3" textLength="64" lengthAdjust="spacingAndGlyphs">(1 : 1 ratio)</text>
<text x="358.3" y="19.2" font-size="12.6" font-weight="bold" text-anchor="start" fill="#000" stroke="#000" stroke-width="0.3" textLength="44.5" lengthAdjust="spacingAndGlyphs">T cells+</text>
<text x="358.3" y="36.2" font-size="12.6" font-weight="bold" text-anchor="start" fill="#000" stroke="#000" stroke-width="0.3" textLength="65.3" lengthAdjust="spacingAndGlyphs">activated B</text>
<text x="358.3" y="52.9" font-size="12.6" font-weight="bold" text-anchor="start" fill="#000" stroke="#000" stroke-width="0.3" textLength="26" lengthAdjust="spacingAndGlyphs">cells</text>
<text x="358.3" y="69.2" font-size="12.6" font-weight="bold" text-anchor="start" fill="#000" stroke="#000" stroke-width="0.3" textLength="64" lengthAdjust="spacingAndGlyphs">(1 : 1 ratio)</text>
<text x="0.2" y="169.2" font-size="16" font-weight="bold" text-anchor="start" fill="#000" stroke="#000" stroke-width="0.3">B</text>
<line x1="58.2" y1="187.5" x2="58.2" y2="455.2" stroke="#7c7c7c" stroke-width="1.1"/>
<line x1="58.2" y1="455.2" x2="233.5" y2="455.2" stroke="#7c7c7c" stroke-width="1.1"/>
<line x1="54" y1="455.2" x2="58.2" y2="455.2" stroke="#7c7c7c" stroke-width="1.1"/>
<text x="46.6" y="458.9" font-size="10.2" font-weight="bold" text-anchor="end" fill="#000" stroke="#000" stroke-width="0.3" textLength="12.6" lengthAdjust="spacingAndGlyphs">40</text>
<line x1="54" y1="401.7" x2="58.2" y2="401.7" stroke="#7c7c7c" stroke-width="1.1"/>
<text x="46.6" y="405.4" font-size="10.2" font-weight="bold" text-anchor="end" fill="#000" stroke="#000" stroke-width="0.3" textLength="12.6" lengthAdjust="spacingAndGlyphs">60</text>
<line x1="54" y1="348.2" x2="58.2" y2="348.2" stroke="#7c7c7c" stroke-width="1.1"/>
<text x="46.6" y="351.9" font-size="10.2" font-weight="bold" text-anchor="end" fill="#000" stroke="#000" stroke-width="0.3" textLength="12.6" lengthAdjust="spacingAndGlyphs">80</text>
<line x1="54" y1="294.6" x2="58.2" y2="294.6" stroke="#7c7c7c" stroke-width="1.1"/>
<text x="46.6" y="298.3" font-size="10.2" font-weight="bold" text-anchor="end" fill="#000" stroke="#000" stroke-width="0.3" textLength="19.2" lengthAdjust="spacingAndGlyphs">100</text>
<line x1="54" y1="241.1" x2="58.2" y2="241.1" stroke="#7c7c7c" stroke-width="1.1"/>
<text x="46.6" y="244.8" font-size="10.2" font-weight="bold" text-anchor="end" fill="#000" stroke="#000" stroke-width="0.3" textLength="19.2" lengthAdjust="spacingAndGlyphs">120</text>
<line x1="54" y1="187.6" x2="58.2" y2="187.6" stroke="#7c7c7c" stroke-width="1.1"/>
<text x="46.6" y="191.3" font-size="10.2" font-weight="bold" text-anchor="end" fill="#000" stroke="#000" stroke-width="0.3" textLength="19.2" lengthAdjust="spacingAndGlyphs">140</text>
<line x1="58.2" y1="455.2" x2="58.2" y2="460.6" stroke="#7c7c7c" stroke-width="1.1"/>
<line x1="102" y1="455.2" x2="102" y2="460.6" stroke="#7c7c7c" stroke-width="1.1"/>
<line x1="145.8" y1="455.2" x2="145.8" y2="460.6" stroke="#7c7c7c" stroke-width="1.1"/>
<line x1="189.7" y1="455.2" x2="189.7" y2="460.6" stroke="#7c7c7c" stroke-width="1.1"/>
<line x1="233.5" y1="455.2" x2="233.5" y2="460.6" stroke="#7c7c7c" stroke-width="1.1"/>
<rect x="68" y="294.2" width="11.8" height="160.5" fill="#a8a8a8"/>
<line x1="69.9" y1="293.9" x2="77.9" y2="293.9" stroke="#111" stroke-width="1"/>
<rect x="79.8" y="294.2" width="12.5" height="160.5" fill="#595959"/>
<line x1="82.05" y1="293.9" x2="90.05" y2="293.9" stroke="#111" stroke-width="1"/>
<rect x="111.3" y="237.3" width="12.5" height="217.4" fill="#a8a8a8"/>
<line x1="117.55" y1="237.3" x2="117.55" y2="218.8" stroke="#111" stroke-width="1.7"/>
<line x1="113.55" y1="218.8" x2="121.55" y2="218.8" stroke="#111" stroke-width="1.7"/>
<rect x="123.8" y="405.4" width="12.7" height="49.3" fill="#595959"/>
<line x1="130.15" y1="405.4" x2="130.15" y2="378" stroke="#111" stroke-width="1.7"/>
<line x1="126.15" y1="378" x2="134.15" y2="378" stroke="#111" stroke-width="1.7"/>
<rect x="155" y="263.5" width="12.3" height="191.2" fill="#a8a8a8"/>
<line x1="161.15" y1="263.5" x2="161.15" y2="252" stroke="#111" stroke-width="1.7"/>
<line x1="157.15" y1="252" x2="165.15" y2="252" stroke="#111" stroke-width="1.7"/>
<rect x="167.3" y="346" width="12.7" height="108.7" fill="#595959"/>
<line x1="173.65" y1="346" x2="173.65" y2="315" stroke="#111" stroke-width="1.7"/>
<line x1="169.65" y1="315" x2="177.65" y2="315" stroke="#111" stroke-width="1.7"/>
<rect x="199" y="290.2" width="12.0" height="164.5" fill="#a8a8a8"/>
<line x1="205.0" y1="290.2" x2="205.0" y2="280.9" stroke="#111" stroke-width="1.7"/>
<line x1="201.0" y1="280.9" x2="209.0" y2="280.9" stroke="#111" stroke-width="1.7"/>
<rect x="211" y="306.2" width="12.4" height="148.5" fill="#595959"/>
<line x1="217.2" y1="306.2" x2="217.2" y2="293.8" stroke="#111" stroke-width="1.7"/>
<line x1="213.2" y1="293.8" x2="221.2" y2="293.8" stroke="#111" stroke-width="1.7"/>
<rect x="146.1" y="181.9" width="7.8" height="7.6" fill="#a8a8a8"/>
<rect x="146.1" y="219.7" width="7.8" height="7.7" fill="#595959"/>
<text x="157.7" y="189.6" font-size="12.9" font-weight="bold" text-anchor="start" fill="#000" stroke="#000" stroke-width="0.3" textLength="66.3" lengthAdjust="spacingAndGlyphs">fresh Bcells</text>
<text x="157.7" y="227.6" font-size="12.9" font-weight="bold" text-anchor="start" fill="#000" stroke="#000" stroke-width="0.3" textLength="53.8" lengthAdjust="spacingAndGlyphs">activated</text>
<text x="157.7" y="244.6" font-size="12.9" font-weight="bold" text-anchor="start" fill="#000" stroke="#000" stroke-width="0.3" textLength="33.3" lengthAdjust="spacingAndGlyphs">Bcells</text>
<text x="80.3" y="480.1" font-size="12.8" font-weight="bold" text-anchor="middle" fill="#000" stroke="#000" stroke-width="0.3" textLength="19.5" lengthAdjust="spacingAndGlyphs">1:0</text>
<text x="124" y="480.1" font-size="12.8" font-weight="bold" text-anchor="middle" fill="#000" stroke="#000" stroke-width="0.3" textLength="19.5" lengthAdjust="spacingAndGlyphs">1:1</text>
<text x="167.3" y="480.1" font-size="12.8" font-weight="bold" text-anchor="middle" fill="#000" stroke="#000" stroke-width="0.3" textLength="19.5" lengthAdjust="spacingAndGlyphs">2:1</text>
<text x="211.3" y="480.1" font-size="12.8" font-weight="bold" text-anchor="middle" fill="#000" stroke="#000" stroke-width="0.3" textLength="19.5" lengthAdjust="spacingAndGlyphs">5:1</text>
<text x="115.7" y="497.6" font-size="13.5" font-weight="bold" text-anchor="start" fill="#000" stroke="#000" stroke-width="0.3" textLength="62.2" lengthAdjust="spacingAndGlyphs">T : B ratio</text>
<text x="23.4" y="416.8" font-size="12.7" font-weight="bold" text-anchor="start" fill="#000" stroke="#000" stroke-width="0.3" textLength="183" lengthAdjust="spacingAndGlyphs" transform="rotate(-90 23.4 416.8)">Adjusted Proliferation Index</text>
<text x="251.2" y="170.1" font-size="17.2" font-weight="bold" text-anchor="start" fill="#000" stroke="#000" stroke-width="0.3">C</text>
<line x1="307.8" y1="175" x2="307.8" y2="457.4" stroke="#7c7c7c" stroke-width="1.1"/>
<line x1="307.8" y1="457.4" x2="520" y2="457.4" stroke="#7c7c7c" stroke-width="1.1"/>
<text x="293.2" y="462.3" font-size="12.6" font-weight="normal" text-anchor="end" fill="#000" textLength="8" lengthAdjust="spacingAndGlyphs">0</text>
<text x="293.2" y="434.1" font-size="12.6" font-weight="normal" text-anchor="end" fill="#000" textLength="16" lengthAdjust="spacingAndGlyphs">50</text>
<text x="293.2" y="405.8" font-size="12.6" font-weight="normal" text-anchor="end" fill="#000" textLength="24.1" lengthAdjust="spacingAndGlyphs">100</text>
<text x="293.2" y="377.6" font-size="12.6" font-weight="normal" text-anchor="end" fill="#000" textLength="24.1" lengthAdjust="spacingAndGlyphs">150</text>
<text x="293.2" y="349.3" font-size="12.6" font-weight="normal" text-anchor="end" fill="#000" textLength="24.1" lengthAdjust="spacingAndGlyphs">200</text>
<text x="293.2" y="321.1" font-size="12.6" font-weight="normal" text-anchor="end" fill="#000" textLength="24.1" lengthAdjust="spacingAndGlyphs">250</text>
<text x="293.2" y="292.9" font-size="12.6" font-weight="normal" text-anchor="end" fill="#000" textLength="24.1" lengthAdjust="spacingAndGlyphs">300</text>
<text x="293.2" y="264.6" font-size="12.6" font-weight="normal" text-anchor="end" fill="#000" textLength="24.1" lengthAdjust="spacingAndGlyphs">350</text>
<text x="293.2" y="236.4" font-size="12.6" font-weight="normal" text-anchor="end" fill="#000" textLength="24.1" lengthAdjust="spacingAndGlyphs">400</text>
<text x="293.2" y="208.1" font-size="12.6" font-weight="normal" text-anchor="end" fill="#000" textLength="24.1" lengthAdjust="spacingAndGlyphs">450</text>
<text x="293.2" y="179.9" font-size="12.6" font-weight="normal" text-anchor="end" fill="#000" textLength="24.1" lengthAdjust="spacingAndGlyphs">500</text>
<polyline points="343,387.1 414.6,305.2 485.1,189.0" fill="none" stroke="#000" stroke-width="3.6" stroke-linejoin="round"/>
<line x1="343.3" y1="425.20" x2="354.4" y2="423.08" stroke="#000" stroke-width="3.9"/>
<line x1="365.8" y1="420.90" x2="378.8" y2="418.41" stroke="#000" stroke-width="3.9"/>
<line x1="390" y1="416.27" x2="402.9" y2="413.80" stroke="#000" stroke-width="3.9"/>
<line x1="408" y1="412.82" x2="414.4" y2="411.60" stroke="#000" stroke-width="3.9"/>
<line x1="414.4" y1="411.60" x2="424.8" y2="408.14" stroke="#000" stroke-width="3.9"/>
<line x1="436.2" y1="404.34" x2="450" y2="399.75" stroke="#000" stroke-width="3.9"/>
<line x1="460" y1="396.42" x2="473.8" y2="391.83" stroke="#000" stroke-width="3.9"/>
<line x1="482" y1="389.10" x2="485" y2="388.10" stroke="#000" stroke-width="3.9"/>
<polyline points="343,431.3 413.8,426.6 484.6,430.1" fill="none" stroke="#000" stroke-width="3.5" stroke-linecap="round" stroke-dasharray="0.01 7.05"/>
<polygon points="343,381.90000000000003 348.4,392.3 337.6,392.3" fill="#000"/>
<polygon points="414.6,300.0 420.0,310.4 409.20000000000005,310.4" fill="#000"/>
<polygon points="485.1,183.8 490.5,194.2 479.70000000000005,194.2" fill="#000"/>
<rect x="337.90000000000003" y="419.8" width="10.8" height="10.8" fill="#000"/>
<rect x="409.0" y="406.20000000000005" width="10.8" height="10.8" fill="#000"/>
<rect x="479.6" y="382.70000000000005" width="10.8" height="10.8" fill="#000"/>
<polygon points="343,426.1 348.2,431.3 343,436.5 337.8,431.3" fill="#000"/>
<polygon points="413.8,421.40000000000003 419.0,426.6 413.8,431.8 408.6,426.6" fill="#000"/>
<polygon points="484.6,424.90000000000003 489.8,430.1 484.6,435.3 479.40000000000003,430.1" fill="#000"/>
<line x1="317.8" y1="185.9" x2="355.5" y2="185.9" stroke="#000" stroke-width="3.4" stroke-linecap="round" stroke-dasharray="0.01 6.95"/>
<polygon points="338.7,181.0 343.59999999999997,185.9 338.7,190.8 333.8,185.9" fill="#000"/>
<line x1="317.7" y1="224.8" x2="331" y2="224.8" stroke="#000" stroke-width="3.6"/>
<line x1="343" y1="224.8" x2="355.3" y2="224.8" stroke="#000" stroke-width="3.6"/>
<rect x="333.9" y="220.2" width="9.6" height="9.6" fill="#000"/>
<line x1="317.7" y1="264.5" x2="359.5" y2="264.5" stroke="#000" stroke-width="3.7"/>
<polygon points="338.4,259.4 343.59999999999997,269.4 333.2,269.4" fill="#000"/>
<text x="363.3" y="190.2" font-size="13.2" font-weight="bold" text-anchor="start" fill="#000" stroke="#000" stroke-width="0.3" textLength="46.5" lengthAdjust="spacingAndGlyphs">control</text>
<text x="363.3" y="229.2" font-size="13.2" font-weight="bold" text-anchor="start" fill="#000" stroke="#000" stroke-width="0.3" textLength="45" lengthAdjust="spacingAndGlyphs">fresh B</text>
<text x="363.3" y="248.3" font-size="13.2" font-weight="bold" text-anchor="start" fill="#000" stroke="#000" stroke-width="0.3" textLength="28.4" lengthAdjust="spacingAndGlyphs">cells</text>
<text x="363.3" y="268.2" font-size="13.2" font-weight="bold" text-anchor="start" fill="#000" stroke="#000" stroke-width="0.3" textLength="60" lengthAdjust="spacingAndGlyphs">activated</text>
<text x="363.3" y="287.9" font-size="13.2" font-weight="bold" text-anchor="start" fill="#000" stroke="#000" stroke-width="0.3" textLength="40.4" lengthAdjust="spacingAndGlyphs">B cells</text>
<text x="328.8" y="480.5" font-size="12.6" font-weight="bold" text-anchor="start" fill="#000" stroke="#000" stroke-width="0.3" textLength="29.4" lengthAdjust="spacingAndGlyphs">5min</text>
<text x="395.6" y="480.5" font-size="12.6" font-weight="bold" text-anchor="start" fill="#000" stroke="#000" stroke-width="0.3" textLength="37" lengthAdjust="spacingAndGlyphs">30min</text>
<text x="466.3" y="480.5" font-size="12.6" font-weight="bold" text-anchor="start" fill="#000" stroke="#000" stroke-width="0.3" textLength="37" lengthAdjust="spacingAndGlyphs">60min</text>
<text x="396.2" y="496.7" font-size="13.1" font-weight="bold" text-anchor="start" fill="#000" stroke="#000" stroke-width="0.3" textLength="30" lengthAdjust="spacingAndGlyphs">time</text>
<text x="262.7" y="389.4" font-size="14.4" font-weight="bold" text-anchor="start" fill="#000" stroke="#000" stroke-width="0.3" textLength="101.5" lengthAdjust="spacingAndGlyphs" transform="rotate(-90 262.7 389.4)">5'AMP (ng/mL)</text>
</svg>
</body></html>
